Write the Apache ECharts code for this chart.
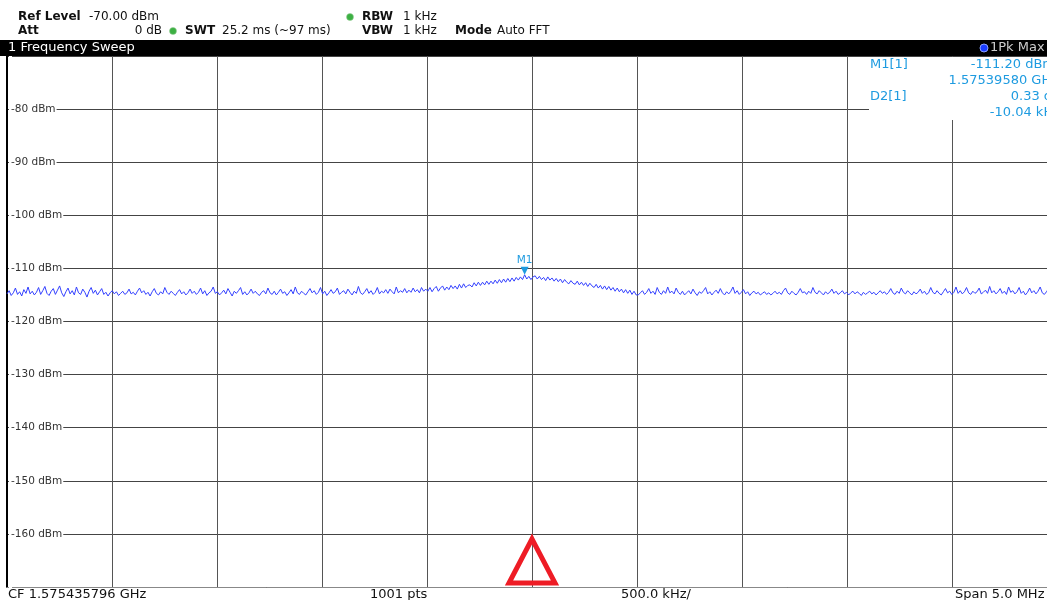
<!doctype html>
<html lang="en">
<head>
<meta charset="UTF-8">
<title>1 Frequency Sweep</title>
<style>
  html, body { margin: 0; padding: 0; background: #fff; }
  #chart { width: 1047px; height: 600px; }
</style>
<script src="https://cdn.jsdelivr.net/npm/echarts@6/dist/echarts.min.js"></script>
</head>
<body>
<div id="chart"></div>
<script>
// sweep settings (kHz offset from start frequency)
var spanKHz = 5000;
// the screen cuts the plot off 10 px before its right edge (1040 of 1050 px visible)
var visibleKHz = spanKHz * 1040 / 1050;
var yTicks = [-80, -90, -100, -110, -120, -130, -140, -150, -160];

// trace 1 (1Pk Max), dBm
var trace = [
  -114.8, -114.2, -115.1, -114.6, -113.7, -114.9, -114.4, -115.2, -114.0, -114.7,
  -113.5, -114.8, -114.3, -115.0, -114.5, -113.6, -114.9, -114.2, -113.4, -114.7,
  -115.1, -114.3, -113.8, -114.9, -114.1, -113.3, -114.6, -115.3, -114.4, -113.7,
  -114.8, -114.2, -115.0, -113.5, -114.6, -114.9, -113.9, -114.5, -115.4, -114.3,
  -113.6, -114.7, -114.1, -115.0, -114.4, -113.8, -114.9, -114.5, -115.2, -114.6,
  -114.2, -114.8, -114.4, -115.1, -114.7, -114.3, -114.9, -114.6, -113.9, -114.8,
  -114.5, -115.0, -114.3, -113.7, -114.6, -114.2, -114.9, -114.5, -115.2, -114.4,
  -113.8, -114.7, -115.0, -114.4, -114.8, -113.6, -114.5, -114.9, -114.3, -114.7,
  -115.1, -114.5, -114.0, -114.8, -114.4, -115.0, -114.6, -113.9, -114.7, -114.3,
  -114.9, -114.5, -113.7, -114.8, -114.2, -115.1, -114.6, -114.3, -113.5, -114.7,
  -114.4, -115.0, -114.6, -114.1, -114.8, -113.8, -114.5, -115.2, -114.3, -114.7,
  -114.2, -113.6, -114.9, -114.4, -115.0, -114.6, -113.9, -114.7, -114.3, -114.8,
  -115.1, -114.5, -114.2, -114.8, -113.7, -114.6, -114.9, -114.3, -115.0, -114.5,
  -113.9, -114.7, -114.4, -115.1, -114.6, -114.0, -114.8, -113.5, -114.6, -114.9,
  -114.3, -114.7, -115.0, -114.4, -113.8, -114.6, -114.2, -114.9, -114.5, -113.6,
  -114.8, -114.3, -115.1, -114.6, -114.0, -114.7, -114.4, -113.7, -114.9, -114.5,
  -114.2, -114.8, -113.9, -114.5, -115.0, -114.3, -114.7, -113.4, -114.6, -114.9,
  -114.4, -113.8, -114.7, -114.2, -114.9, -114.5, -113.6, -114.8, -114.3, -114.6,
  -114.0, -114.7, -113.9, -114.4, -114.8, -113.5, -114.6, -114.2, -114.5, -113.8,
  -114.6, -114.1, -114.5, -113.7, -114.4, -114.0, -114.6, -113.6, -114.3, -113.9,
  -114.3, -113.6, -114.4, -113.8, -113.4, -114.3, -113.7, -113.3, -114.1, -113.5,
  -114.0, -113.2, -113.8, -113.3, -113.9, -113.0, -113.7, -112.9, -113.6, -113.2,
  -113.1, -113.5, -112.7, -113.3, -112.6, -113.2, -112.6, -113.1, -112.4, -113.0,
  -112.4, -112.9, -112.2, -112.8, -112.1, -112.7, -112.0, -112.6, -111.9, -112.5,
  -111.8, -112.4, -111.7, -112.2, -111.6, -112.1, -111.2, -112.0, -111.5, -112.1,
  -111.6, -111.4, -112.0, -111.5, -112.1, -111.7, -112.3, -111.6, -112.2, -111.8,
  -112.4, -111.9, -112.5, -112.0, -112.7, -112.1, -112.6, -112.9, -112.3, -112.8,
  -113.0, -112.4, -113.1, -112.6, -113.2, -112.7, -113.4, -112.8, -113.3, -113.6,
  -113.0, -113.7, -113.2, -113.9, -113.3, -114.0, -113.4, -114.1, -113.6, -114.3,
  -113.7, -114.4, -113.9, -114.6, -114.0, -114.7, -114.1, -114.9, -114.3, -115.0,
  -115.0, -114.6, -114.2, -114.9, -114.5, -113.8, -114.7, -114.3, -114.9, -113.6,
  -114.5, -114.9, -114.2, -114.7, -113.5, -114.6, -114.3, -114.8, -113.7, -114.5,
  -114.9, -114.3, -115.0, -114.6, -114.2, -114.8, -113.9, -114.6, -115.1, -114.4,
  -114.7, -114.2, -113.6, -114.8, -114.4, -115.0, -114.5, -114.1, -114.7, -113.8,
  -114.6, -115.0, -114.4, -114.8, -114.3, -113.5, -114.7, -114.2, -114.9, -114.5,
  -114.0, -114.8, -114.4, -115.1, -114.6, -114.3, -114.8, -114.5, -115.0, -114.7,
  -114.4, -114.9, -114.6, -115.0, -114.7, -114.3, -114.8, -114.5, -114.9, -114.2,
  -113.7, -114.6, -114.9, -114.3, -114.7, -115.0, -114.5, -113.8, -114.6, -114.4,
  -114.9, -114.3, -114.7, -113.6, -114.5, -114.8, -114.2, -114.6, -115.0, -114.4,
  -114.8, -114.5, -113.9, -114.7, -114.3, -114.9, -114.6, -114.2, -114.8, -114.5,
  -115.0, -114.6, -114.3, -114.8, -114.4, -114.7, -115.1, -114.5, -114.9, -114.6,
  -114.3, -114.8, -114.5, -115.0, -114.6, -114.2, -114.7, -114.4, -114.9, -114.5,
  -113.8, -114.6, -114.9, -114.3, -114.7, -113.7, -114.5, -114.8, -114.2, -114.6,
  -115.0, -114.4, -114.8, -114.5, -113.9, -114.7, -114.3, -114.9, -114.6, -113.6,
  -114.5, -114.8, -114.2, -114.7, -115.0, -114.4, -113.8, -114.6, -114.3, -114.9,
  -114.5, -113.5, -114.7, -114.2, -114.8, -114.4, -113.6, -114.6, -114.9, -114.3,
  -114.7, -114.4, -113.7, -114.8, -114.5, -114.1, -114.7, -113.4, -114.6, -114.2,
  -114.8, -114.4, -113.8, -114.7, -114.3, -114.9, -113.5, -114.5, -114.2, -114.8,
  -114.4, -113.6, -114.7, -114.3, -115.0, -114.5, -113.7, -114.6, -114.2, -114.8,
  -114.3, -113.5, -114.6, -114.9, -114.4, -113.8, -114.7, -114.2, -114.5, -114.6
];
var m1Index = 246;
var m1Level = -111.2;

var blue = '#1e9be0';
var font = 'DejaVu Sans';

// points are evenly spaced over the span
var points = [];
for (var i = 0; i < trace.length; i++) {
  points.push([i * spanKHz / (trace.length - 1), trace[i]]);
}

function txt(x, y, s, opt) {
  opt = opt || {};
  return {
    type: 'text', x: x, y: y, z: 101,
    style: {
      text: s, fill: opt.color || '#111', font: (opt.bold ? 'bold ' : '') + (opt.size || 12) + 'px ' + font,
      textAlign: opt.align || 'left', textVerticalAlign: 'middle'
    }
  };
}
function dot(x, y, c) {
  return { type: 'circle', z: 101, shape: { cx: x, cy: y, r: 3.5 }, style: { fill: c, stroke: '#9c9', lineWidth: 0.5 } };
}

// 10 division lines, then the cut-off edge line is hidden
var vLineColors = ['#555', '#555', '#555', '#555', '#555', '#555', '#555', '#555', '#555', '#555', 'rgba(0,0,0,0)'];

var myChart = echarts.init(document.getElementById('chart'));
var option = {
  animation: false,
  grid: { left: 7, right: 0, top: 56, bottom: 13 },
  xAxis: {
    type: 'value', min: 0, max: visibleKHz, interval: 500,
    axisLine: { show: true, onZero: false, lineStyle: { color: '#888', width: 1 } },
    axisTick: { show: false },
    axisLabel: { show: false },
    splitLine: { show: true, lineStyle: { color: vLineColors, width: 1 } }
  },
  yAxis: {
    type: 'value', min: -170, max: -70, interval: 10,
    axisLine: { show: true, lineStyle: { color: '#000', width: 2 } },
    axisTick: { show: false },
    axisLabel: {
      inside: true, margin: 2, color: '#333', fontFamily: font, fontSize: 10.5,
      backgroundColor: '#fff', padding: [1, 1, 1, 2],
      formatter: function (v) { return yTicks.indexOf(v) >= 0 ? v + ' dBm' : ''; }
    },
    splitLine: { show: true, lineStyle: { color: '#444', width: 1 } }
  },
  series: [{
    type: 'line', data: points, showSymbol: false,
    lineStyle: { color: '#3340ff', width: 1 },
    markPoint: {
      animation: false,
      data: [
        {
          coord: [points[m1Index][0], m1Level], symbol: 'triangle', symbolRotate: 180,
          symbolSize: [8, 8], symbolOffset: [0, -4],
          itemStyle: { color: blue },
          label: { show: true, formatter: 'M1', position: 'top', distance: 1, color: blue, fontSize: 10.5, fontFamily: font }
        },
        {
          coord: [2500, -165.1], symbol: 'triangle', symbolSize: [46, 44],
          itemStyle: { color: 'rgba(0,0,0,0)', borderColor: '#ee1c25', borderWidth: 5 },
          label: { show: false }
        }
      ]
    }
  }],
  graphic: [
    // header
    txt(18, 17, 'Ref Level', { bold: true }),
    txt(89, 17, '-70.00 dBm'),
    txt(18, 31, 'Att', { bold: true }),
    txt(162, 31, '0 dB', { align: 'right' }),
    dot(173, 31, '#3cb043'),
    txt(185, 31, 'SWT', { bold: true }),
    txt(222, 31, '25.2 ms (~97 ms)'),
    dot(350, 17, '#3cb043'),
    txt(362, 17, 'RBW', { bold: true }),
    txt(403, 17, '1 kHz'),
    txt(362, 31, 'VBW', { bold: true }),
    txt(403, 31, '1 kHz'),
    txt(455, 31, 'Mode', { bold: true }),
    txt(497, 31, 'Auto FFT'),
    // title bar
    { type: 'rect', z: 100, shape: { x: 0, y: 40, width: 1047, height: 16 }, style: { fill: '#000' } },
    txt(8, 48, '1 Frequency Sweep', { color: '#fff', size: 13 }),
    { type: 'circle', z: 101, shape: { cx: 984, cy: 48, r: 4 }, style: { fill: '#1a3cff', stroke: '#8aa0ff', lineWidth: 1 } },
    txt(990, 48, '1Pk Max', { color: '#ccc', size: 13 }),
    // marker table
    { type: 'rect', z: 100, shape: { x: 869, y: 57, width: 180, height: 63 }, style: { fill: '#fff' } },
    txt(870, 65, 'M1[1]', { color: blue, size: 13 }),
    txt(1055, 65, '-111.20 dBm', { color: blue, size: 13, align: 'right' }),
    txt(1058, 81, '1.57539580 GHz', { color: blue, size: 13, align: 'right' }),
    txt(870, 97, 'D2[1]', { color: blue, size: 13 }),
    txt(1061, 97, '0.33 dB', { color: blue, size: 13, align: 'right' }),
    txt(1060, 113, '-10.04 kHz', { color: blue, size: 13, align: 'right' }),
    // footer
    txt(8, 595, 'CF 1.575435796 GHz', { size: 13 }),
    txt(370, 595, '1001 pts', { size: 13 }),
    txt(621, 595, '500.0 kHz/', { size: 13 }),
    txt(955, 595, 'Span 5.0 MHz', { size: 13 })
  ]
};
myChart.setOption(option);
</script>
</body>
</html>
